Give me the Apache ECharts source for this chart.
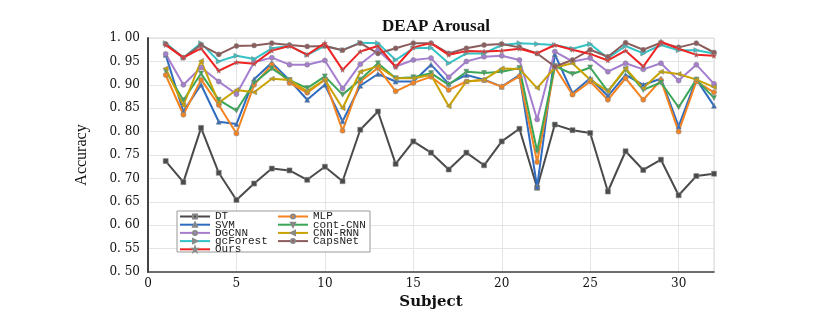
<!DOCTYPE html>
<html><head><meta charset="utf-8">
<script src="https://cdn.jsdelivr.net/npm/echarts@6/dist/echarts.min.js"></script>
<style>html,body{margin:0;padding:0;background:#fff}#c{width:830px;height:327px}</style>
</head><body><div id="c"></div>
<script>
const subjects = [1,2,3,4,5,6,7,8,9,10,11,12,13,14,15,16,17,18,19,20,21,22,23,24,25,26,27,28,29,30,31,32];
const yTicks = [0.50,0.55,0.60,0.65,0.70,0.75,0.80,0.85,0.90,0.95,1.00];
const xTicks = [0,5,10,15,20,25,30];
const DT = [0.737,0.692,0.808,0.712,0.654,0.689,0.721,0.717,0.697,0.725,0.694,0.804,0.843,0.731,0.779,0.755,0.719,0.755,0.728,0.779,0.806,0.680,0.815,0.803,0.797,0.672,0.758,0.718,0.740,0.664,0.705,0.710];
const SVM = [0.964,0.843,0.900,0.821,0.816,0.912,0.947,0.910,0.868,0.900,0.822,0.898,0.923,0.907,0.907,0.943,0.902,0.921,0.911,0.896,0.921,0.682,0.965,0.882,0.914,0.876,0.921,0.900,0.913,0.811,0.912,0.855];
const DGCNN = [0.966,0.900,0.937,0.907,0.880,0.948,0.958,0.943,0.943,0.952,0.892,0.944,0.974,0.939,0.953,0.957,0.916,0.950,0.960,0.962,0.953,0.826,0.971,0.950,0.957,0.928,0.946,0.933,0.946,0.909,0.943,0.902];
const gcForest = [0.989,0.958,0.989,0.950,0.962,0.955,0.978,0.983,0.964,0.983,0.974,0.990,0.989,0.953,0.978,0.979,0.946,0.967,0.967,0.985,0.989,0.987,0.985,0.977,0.987,0.957,0.983,0.967,0.985,0.974,0.974,0.967];
const Ours = [0.985,0.958,0.978,0.930,0.948,0.945,0.973,0.983,0.964,0.989,0.932,0.971,0.983,0.938,0.980,0.989,0.964,0.972,0.971,0.973,0.977,0.967,0.985,0.975,0.966,0.952,0.973,0.939,0.992,0.977,0.964,0.962];
const MLP = [0.921,0.836,0.911,0.857,0.796,0.900,0.943,0.904,0.883,0.911,0.802,0.907,0.936,0.886,0.904,0.917,0.889,0.907,0.910,0.896,0.918,0.735,0.938,0.879,0.907,0.868,0.914,0.868,0.910,0.800,0.907,0.884];
const contCNN = [0.930,0.867,0.924,0.868,0.845,0.904,0.935,0.910,0.893,0.918,0.879,0.911,0.946,0.914,0.916,0.925,0.900,0.928,0.925,0.928,0.936,0.758,0.940,0.923,0.937,0.886,0.933,0.889,0.905,0.852,0.911,0.872];
const CNNRNN = [0.935,0.856,0.951,0.862,0.889,0.884,0.913,0.910,0.886,0.911,0.850,0.928,0.940,0.914,0.914,0.921,0.854,0.907,0.911,0.935,0.934,0.893,0.937,0.946,0.911,0.886,0.935,0.893,0.928,0.923,0.911,0.895];
const CapsNet = [0.987,0.958,0.985,0.965,0.983,0.984,0.989,0.985,0.982,0.983,0.974,0.989,0.967,0.978,0.989,0.989,0.967,0.978,0.985,0.987,0.980,0.967,0.939,0.953,0.975,0.960,0.990,0.975,0.990,0.980,0.989,0.969];

const star = 'path://M50,0 L61,35 L98,35 L68,57 L79,91 L50,70 L21,91 L32,57 L2,35 L39,35 Z';
const defs = [
  ['DT', DT, '#4a4a4a', 'rect', 0],
  ['SVM', SVM, '#2f6cc0', 'triangle', 0],
  ['DGCNN', DGCNN, '#a57ed0', 'circle', 0],
  ['gcForest', gcForest, '#33c3c6', 'triangle', -90],
  ['Ours', Ours, '#ee2424', star, 0],
  ['MLP', MLP, '#f5831f', 'circle', 0],
  ['cont-CNN', contCNN, '#3aa657', 'triangle', 180],
  ['CNN-RNN', CNNRNN, '#c9a200', 'triangle', 90],
  ['CapsNet', CapsNet, '#8c5c5c', 'circle', 0]
];
const order = ['DT','SVM','DGCNN','gcForest','Ours','MLP','cont-CNN','CNN-RNN','CapsNet'];
const series = defs.map(d => ({
  name: d[0], type: 'line',
  data: subjects.map((s,i) => [s, d[1][i]]),
  symbol: d[3], symbolRotate: d[4], symbolSize: 5,
  lineStyle: {width: 2, color: d[2]},
  itemStyle: {color: d[2], borderColor: '#888', borderWidth: 0.6},
  z: d[0]==='Ours' ? 6 : 3
}));
const legendCommon = {
  orient: 'vertical', itemWidth: 30, itemHeight: 5, itemGap: -2.8, padding: 0,
  textStyle: {fontFamily: 'Liberation Mono', fontSize: 11, lineHeight: 8, height: 8, color: '#222'},
  z: 10
};
const chart = echarts.init(document.getElementById('c'));
chart.setOption({
  animation: false,
  backgroundColor: '#fff',
  title: {text: 'DEAP Arousal', left: 431, textAlign: 'center', top: 13,
    textStyle: {fontFamily: 'Liberation Serif', fontWeight: 'bold', fontSize: 17, color: '#111'}},
  grid: {left: 148, right: 116, top: 38, bottom: 55, show: true, borderColor: '#d8d8d8', borderWidth: 1},
  xAxis: {type: 'value', min: 0, max: 32, interval: 5,
    name: 'Subject', nameLocation: 'middle', nameGap: 22,
    nameTextStyle: {fontFamily: 'DejaVu Serif', fontWeight: 'bold', fontSize: 15, color: '#111'},
    axisLine: {show: true, lineStyle: {color: '#444', width: 1.5}},
    axisTick: {show: false},
    axisLabel: {fontFamily: 'DejaVu Serif', fontSize: 12, color: '#111', margin: 6,
      formatter: v => xTicks.includes(v) ? String(v) : ''},
    splitLine: {show: true, lineStyle: {color: '#e4e4e4', width: 1}}},
  yAxis: {type: 'value', min: 0.5, max: 1.0, interval: 0.05,
    name: 'Accuracy', nameLocation: 'middle', nameGap: 58, nameRotate: 90,
    nameTextStyle: {fontFamily: 'Liberation Serif', fontSize: 16, color: '#111'},
    axisLine: {show: true, lineStyle: {color: '#444', width: 2}},
    axisTick: {show: false},
    axisLabel: {fontFamily: 'DejaVu Serif', fontSize: 12, color: '#111', margin: 8,
      formatter: v => {
        const t = yTicks.find(k => Math.abs(k - v) < 1e-6);
        return t === undefined ? '' : t.toFixed(2).replace('.', '. ');
      }},
    splitLine: {show: true, lineStyle: {color: '#e4e4e4', width: 1}}},
  legend: [
    Object.assign({left: 179, top: 211, data: order.slice(0,5)}, legendCommon),
    Object.assign({left: 277, top: 211, data: order.slice(5)}, legendCommon)
  ],
  graphic: [{type: 'rect', shape: {x: 177, y: 211, width: 193, height: 41}, z: 3,
    style: {fill: '#fff', stroke: '#999', lineWidth: 1}}],
  series: series
});
</script></body></html>
